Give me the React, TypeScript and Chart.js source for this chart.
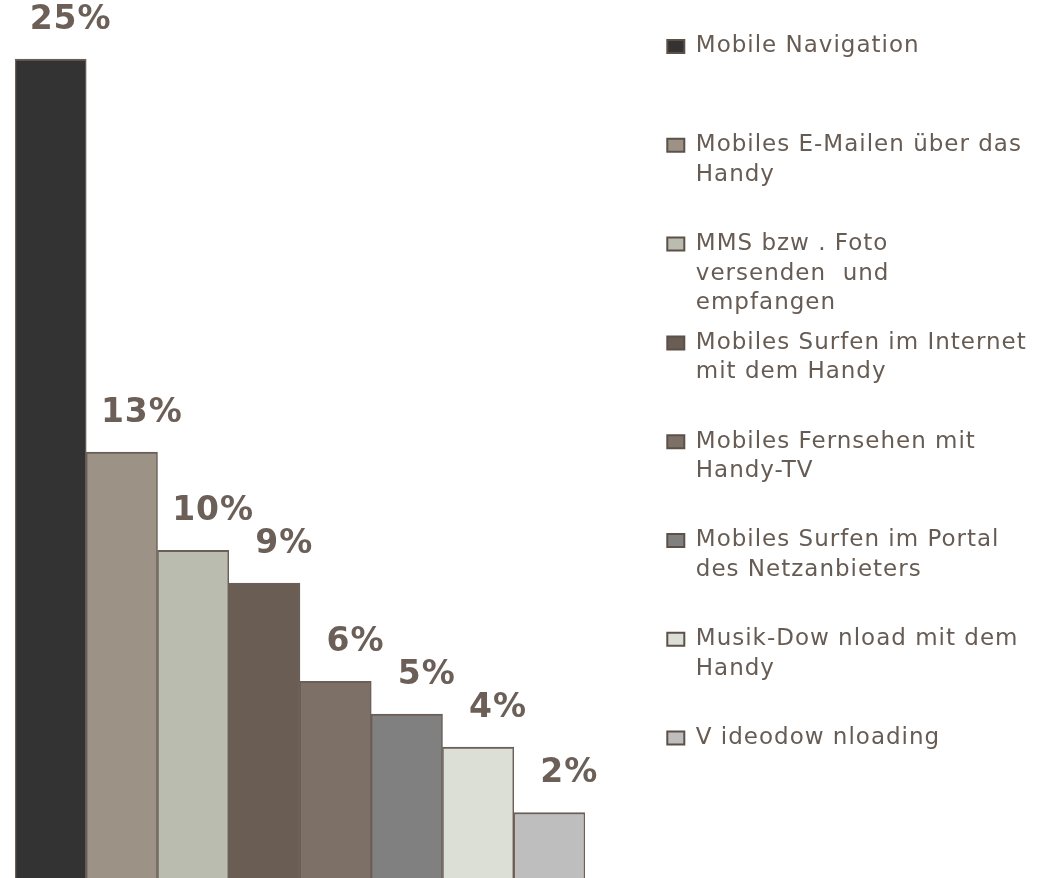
import React, { useEffect, useRef } from 'react';
import { Chart, registerables } from 'chart.js';

Chart.register(...registerables);

const CATEGORIES = [
  'Mobile Navigation',
  'Mobiles E-Mailen über das Handy',
  'MMS bzw . Foto versenden  und empfangen',
  'Mobiles Surfen im Internet mit dem Handy',
  'Mobiles Fernsehen mit Handy-TV',
  'Mobiles Surfen im Portal des Netzanbieters',
  'Musik-Dow nload mit dem Handy',
  'V ideodow nloading',
];

const LEGEND_LINES = [
  ['Mobile Navigation'],
  ['Mobiles E-Mailen über das', 'Handy'],
  ['MMS bzw . Foto', 'versenden  und', 'empfangen'],
  ['Mobiles Surfen im Internet', 'mit dem Handy'],
  ['Mobiles Fernsehen mit', 'Handy-TV'],
  ['Mobiles Surfen im Portal', 'des Netzanbieters'],
  ['Musik-Dow nload mit dem', 'Handy'],
  ['V ideodow nloading'],
];

const VALUES = [25, 13, 10, 9, 6, 5, 4, 2];

const COLORS = ['#333333', '#9c9386', '#bbbcb0', '#6a5d53', '#7d7067', '#808080', '#dcdfd6', '#bebebe'];

const BORDER = '#6b5f57';
const TEXT = '#675c54';
const LEGEND_WIDTH = 387;
const SPACER_WIDTH = 72;

const padLines = (lines: string[]) => {
  const out = lines.slice();
  while (out.length < 3) out.push('');
  return out;
};

const legendWidthPlugin = {
  id: 'legendWidth',
  beforeLayout(chart: any) {
    const lg = chart.legend;
    if (lg && !lg.__fixed) {
      const orig = lg.fit.bind(lg);
      lg.fit = () => {
        orig();
        lg.width = LEGEND_WIDTH;
      };
      lg.__fixed = true;
    }
  },
};

const spacingPlugin = {
  id: 'spacing',
  beforeDraw(chart: any) {
    (chart.ctx as any).letterSpacing = '1px';
  },
};

const valueLabelPlugin = {
  id: 'valueLabels',
  afterDatasetsDraw(chart: any) {
    const ctx = chart.ctx;
    ctx.save();
    (ctx as any).letterSpacing = '1px';
    ctx.font = 'bold 33px "DejaVu Sans"';
    ctx.fillStyle = BORDER;
    ctx.textAlign = 'center';
    ctx.textBaseline = 'alphabetic';
    chart.data.datasets.forEach((ds: any, i: number) => {
      const meta = chart.getDatasetMeta(i);
      meta.data.forEach((bar: any, j: number) => {
        const v = ds.data[j];
        if (v === null || v === undefined) return;
        ctx.fillText(`${v}%`, bar.x + 20, bar.y - 30);
      });
    });
    ctx.restore();
  },
};

export default function App() {
  const ref = useRef<HTMLCanvasElement | null>(null);

  useEffect(() => {
    if (!ref.current) return;
    const datasets = CATEGORIES.map((name, i) => ({
      label: padLines(LEGEND_LINES[i]) as any,
      data: VALUES.map((v, j) => (j === i ? v : null)),
      backgroundColor: COLORS[i],
      borderColor: BORDER,
      borderWidth: { top: 2, left: 1.5, right: 1.5, bottom: 0 },
      borderSkipped: false,
      categoryPercentage: 1,
      barPercentage: 1,
      skipNull: true,
    }));

    const chart = new Chart(ref.current, {
      type: 'bar',
      data: { labels: CATEGORIES, datasets },
      options: {
        responsive: false,
        animation: false,
        events: [],
        layout: { padding: { left: 15, right: 0, top: 0, bottom: 0 } },
        scales: {
          x: { display: false },
          y: {
            position: 'right',
            min: 0,
            max: 26.8,
            ticks: { display: false },
            grid: { display: false },
            border: { display: false },
            afterFit: (s: any) => {
              s.width = SPACER_WIDTH;
            },
          },
        },
        plugins: {
          tooltip: { enabled: false },
          legend: {
            position: 'right',
            align: 'start',
            title: {
              display: true,
              text: '',
              padding: 0,
              font: { size: 12, lineHeight: '24.7px' },
            },
            labels: {
              font: { family: 'DejaVu Sans', size: 23, lineHeight: '29.5px' },
              color: TEXT,
              boxWidth: 17,
              boxHeight: 13,
              padding: 10.3,
              generateLabels: (c: any) =>
                Chart.defaults.plugins.legend.labels
                  .generateLabels(c)
                  .map((it: any) => ({ ...it, lineWidth: 2, strokeStyle: '#5d5048', fontColor: TEXT })),
            },
          },
        },
      } as any,
      plugins: [legendWidthPlugin, spacingPlugin, valueLabelPlugin],
    });

    return () => chart.destroy();
  }, []);

  return (
    <div
      style={{
        position: 'fixed',
        left: 0,
        top: 0,
        width: 1044,
        height: 878,
        overflow: 'hidden',
        background: '#ffffff',
      }}
    >
      <canvas ref={ref} width={1044} height={878} style={{ display: 'block' }} />
    </div>
  );
}
